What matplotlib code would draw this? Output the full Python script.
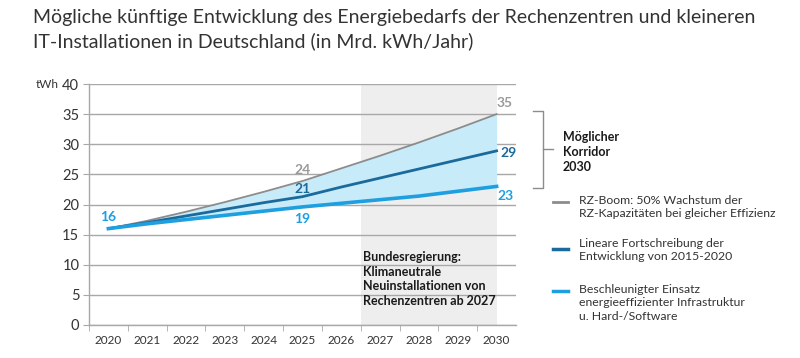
import matplotlib
matplotlib.use("Agg")
import matplotlib.pyplot as plt
from matplotlib.lines import Line2D

plt.rcParams['font.family'] = ['Lato', 'DejaVu Sans']

years = [2020, 2021, 2022, 2023, 2024, 2025, 2026, 2027, 2028, 2029, 2030]
rz_boom = [16.0, 17.3, 18.8, 20.4, 22.1, 23.9, 26.0, 28.1, 30.3, 32.6, 35.0]
linear = [16.0, 17.0, 18.1, 19.2, 20.3, 21.3, 22.9, 24.4, 25.9, 27.4, 28.9]
efficient = [16.0, 16.8, 17.5, 18.2, 18.9, 19.6, 20.2, 20.8, 21.4, 22.2, 23.0]
yticks = [0, 5, 10, 15, 20, 25, 30, 35, 40]

title = ("Mögliche künftige Entwicklung des Energiebedarfs der Rechenzentren und kleineren\n"
         "IT-Installationen in Deutschland (in Mrd. kWh/Jahr)")
legend_labels = ["RZ-Boom: 50% Wachstum der\nRZ-Kapazitäten bei gleicher Effizienz",
                 "Lineare Fortschreibung der\nEntwicklung von 2015-2020",
                 "Beschleunigter Einsatz\nenergieeffizienter Infrastruktur\nu. Hard-/Software"]
corridor_text = "Möglicher\nKorridor\n2030"
gov_text = "Bundesregierung:\nKlimaneutrale\nNeuinstallationen von\nRechenzentren ab 2027"

C_GREY = "#8c8c8c"
C_DARK = "#1b6a9c"
C_LIGHT = "#1e9fe0"
C_FILL = "#c8ebfa"
C_BAND = "#eeeeee"
C_GRID = "#a8a8a8"

W, H = 800, 358
fig = plt.figure(figsize=(8, 3.58), dpi=100)

def fx(px):
    return px / W

def fy(py):
    return 1 - py / H

ax = fig.add_axes([fx(89), fy(325), fx(516) - fx(89), fy(84) - fy(325)])
ax.set_xlim(2019.5, 2030.5)
ax.set_ylim(0, 40)

ax.axvspan(2026.5, 2030, color=C_BAND, zorder=0, lw=0)
for v in yticks:
    ax.axhline(v, color=C_GRID, lw=1.0, zorder=1)
ax.fill_between(years, efficient, rz_boom, color=C_FILL, zorder=2, lw=0)
ax.plot(years, rz_boom, color=C_GREY, lw=1.3, zorder=3)
ax.plot(years, linear, color=C_DARK, lw=2.0, zorder=4)
ax.plot(years, efficient, color=C_LIGHT, lw=2.6, zorder=5)

for s in ['top', 'right']:
    ax.spines[s].set_visible(False)
ax.spines['left'].set_color(C_GRID)
ax.spines['bottom'].set_color(C_GRID)
ax.spines['left'].set_linewidth(1.0)
ax.spines['bottom'].set_linewidth(1.0)

ax.set_yticks(yticks)
ax.set_yticklabels([str(v) for v in yticks], fontsize=10.5, color="#333333")
ax.tick_params(axis='y', length=4, color=C_GRID, pad=3)
ax.set_xticks(years)
ax.set_xticklabels([str(y) for y in years], fontsize=8.5, color="#333333")
ax.tick_params(axis='x', length=0, pad=7)
ax.set_xticks([y + 0.5 for y in years[:-1]] + [2019.5], minor=True)
ax.tick_params(axis='x', which='minor', length=4, color=C_GRID)

# value labels
vfs = 10
ax.text(2020, 18.0, "16", color=C_LIGHT, fontsize=vfs, fontweight='bold', ha='center', va='center')
ax.text(2025, 25.8, "24", color="#9a9a9a", fontsize=vfs, fontweight='bold', ha='center', va='center')
ax.text(2025, 22.6, "21", color=C_DARK, fontsize=vfs, fontweight='bold', ha='center', va='center')
ax.text(2025, 17.6, "19", color=C_LIGHT, fontsize=vfs, fontweight='bold', ha='center', va='center')
ax.text(2030.2, 36.8, "35", color="#9a9a9a", fontsize=vfs, fontweight='bold', ha='center', va='center')
ax.text(2030.1, 28.6, "29", color=C_DARK, fontsize=vfs, fontweight='bold', ha='left', va='center')
ax.text(2030.22, 21.4, "23", color=C_LIGHT, fontsize=vfs, fontweight='bold', ha='center', va='center')

ax.text(2026.55, 12.2, gov_text, fontsize=9, fontweight='bold', color="#1a1a1a",
        ha='left', va='top', linespacing=1.25)

# y unit label
fig.text(fx(36), fy(84), "tWh", fontsize=8.5, color="#333333", ha='left', va='center')

# title
fig.text(fx(33), fy(9), title, fontsize=14, color="#333333", ha='left', va='top', linespacing=1.4)

# bracket
lc = "#8c8c8c"
fig.add_artist(Line2D([fx(533), fx(543), fx(543), fx(533)], [fy(111), fy(111), fy(188), fy(188)],
                      color=lc, lw=1.0))
fig.add_artist(Line2D([fx(543), fx(553)], [fy(149), fy(149)], color=lc, lw=1.0))
fig.text(fx(563), fy(152), corridor_text, fontsize=9, fontweight='bold', color="#1a1a1a",
         ha='left', va='center', linespacing=1.3)

# legend
leg_colors = [C_GREY, C_DARK, C_LIGHT]
leg_lw = [2.0, 2.5, 2.5]
leg_y = [202, 249, 291]
text_top = [195, 238, 284]
for col, lw, yy, ty, lab in zip(leg_colors, leg_lw, leg_y, text_top, legend_labels):
    fig.add_artist(Line2D([fx(553), fx(568)], [fy(yy), fy(yy)], color=col, lw=lw))
    fig.text(fx(579), fy(ty), lab, fontsize=8.8, color="#333333", ha='left', va='top', linespacing=1.25)

fig.savefig("out.png", dpi=100, facecolor="white")
